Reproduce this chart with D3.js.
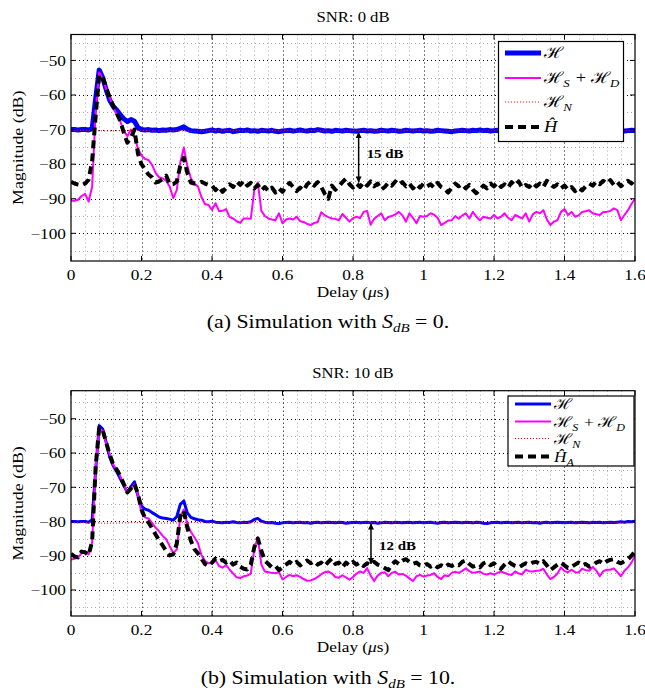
<!DOCTYPE html>
<html>
<head>
<meta charset="utf-8">
<script src="https://cdn.jsdelivr.net/npm/d3@7"></script>
<style>
  body { margin: 0; background: #fff; }
  text { font-family: "Liberation Serif", "Times New Roman", "DejaVu Serif", serif; fill: #000; }
</style>
</head>
<body>
<svg id="chart" width="645" height="692"></svg>
<script>
// sample grid of the delay axis (us)
const delay = d3.range(0, 161).map(i => i / 100);
const delayN = d3.range(0, 33).map(i => i * 0.05);

// ---- SNR 0 dB ----
const H0 = [
  -70.0,-70.0,-70.1,-70.0,-70.0,-70.1,-69.8,-61.0,-52.8,-55.0,
  -58.5,-61.5,-63.3,-64.4,-65.8,-66.9,-67.7,-67.1,-67.6,-69.4,
  -70.0,-70.1,-70.0,-70.2,-70.1,-70.3,-70.1,-70.2,-70.0,-70.1,
  -70.0,-69.6,-69.2,-69.9,-70.3,-70.4,-70.5,-70.6,-70.5,-70.3,
  -70.1,-70.4,-70.2,-70.5,-70.3,-70.2,-70.6,-70.4,-70.2,-70.3,
  -70.1,-70.4,-70.3,-70.5,-70.2,-70.3,-70.4,-70.2,-70.5,-70.6,
  -70.4,-70.3,-70.2,-70.4,-70.3,-70.1,-70.3,-70.4,-70.2,-70.3,
  -70.0,-70.2,-70.4,-70.3,-70.5,-70.2,-70.3,-70.4,-70.2,-70.3,
  -70.4,-70.5,-70.3,-70.2,-70.4,-70.3,-70.5,-70.4,-70.2,-70.3,
  -70.4,-70.2,-70.3,-70.5,-70.4,-70.2,-70.3,-70.4,-70.3,-70.2,
  -70.4,-70.3,-70.5,-70.4,-70.2,-70.3,-70.4,-70.5,-70.6,-70.4,
  -70.3,-70.2,-70.3,-70.4,-70.2,-70.3,-70.1,-70.3,-70.2,-70.4,
  -70.3,-70.2,-70.4,-70.3,-70.5,-70.3,-70.2,-70.4,-70.3,-70.2,
  -70.4,-70.3,-70.5,-70.4,-70.2,-70.3,-70.4,-70.3,-70.2,-70.4,
  -70.3,-70.5,-70.3,-70.2,-70.4,-70.3,-70.2,-70.4,-70.3,-70.1,
  -70.3,-70.4,-70.2,-70.3,-70.4,-70.2,-70.3,-70.4,-70.3,-70.2,-70.3
];
const HSD0 = [
  -90.6,-90.6,-90.3,-89.2,-88.6,-90.8,-86.5,-64.5,-53.5,-55.2,
  -58.3,-60.8,-63.6,-65.8,-67.6,-70.5,-71.9,-70.0,-72.0,-75.5,
  -77.5,-78.5,-78.8,-80.2,-82.5,-83.8,-84.1,-84.8,-86.5,-89.8,
  -87.5,-79.5,-75.2,-80.5,-84.0,-85.7,-86.4,-89.5,-91.5,-91.8,
  -93.2,-91.3,-93.6,-93.5,-93.0,-95.3,-95.7,-96.5,-97.0,-95.7,
  -95.7,-95.8,-87.5,-85.3,-93.5,-95.0,-95.7,-96.0,-96.2,-94.2,
  -97.1,-96.0,-95.7,-96.0,-95.2,-96.5,-96.7,-97.3,-97.6,-97.0,
  -96.7,-93.9,-94.8,-95.3,-95.7,-95.8,-96.2,-94.4,-95.5,-96.6,
  -95.6,-95.2,-95.6,-93.8,-93.5,-97.5,-95.8,-95.0,-94.2,-96.2,
  -95.3,-95.0,-94.5,-93.8,-94.8,-96.6,-94.2,-95.5,-97.1,-95.0,
  -95.2,-95.0,-94.2,-94.6,-95.5,-97.6,-97.0,-96.3,-96.2,-95.0,
  -95.8,-94.8,-94.2,-95.7,-93.8,-95.2,-96.2,-95.2,-95.5,-95.7,
  -94.7,-95.7,-95.2,-94.2,-95.5,-96.2,-94.7,-95.2,-95.7,-94.2,
  -96.6,-94.5,-93.8,-94.2,-93.3,-96.0,-97.6,-96.6,-96.2,-93.8,
  -93.0,-94.7,-93.8,-95.2,-94.8,-93.8,-93.6,-93.3,-94.2,-94.5,
  -94.7,-93.8,-93.8,-93.5,-92.8,-93.3,-96.2,-94.7,-93.3,-91.5,-90.0
];
const HN0 = [
  -70.3,-70.2,-70.4,-70.3,-70.2,-70.4,-70.3,-70.5,-70.3,-70.2,
  -70.4,-70.3,-70.2,-70.4,-70.3,-70.5,-70.3,-70.2,-70.4,-70.3,
  -70.2,-70.4,-70.3,-70.5,-70.3,-70.2,-70.4,-70.3,-70.2,-70.3,
  -70.4,-70.3,-70.2
];
const Hhat0 = [
  -85.1,-85.6,-85.9,-86.1,-85.6,-84.5,-79.0,-66.0,-54.2,-54.8,
  -58.0,-60.8,-63.2,-65.3,-67.5,-71.0,-73.8,-72.3,-70.0,-77.0,
  -80.0,-81.5,-83.0,-83.8,-85.3,-85.0,-84.3,-83.3,-85.8,-85.8,
  -85.0,-80.5,-78.2,-82.5,-85.3,-85.6,-85.4,-85.1,-85.6,-86.0,
  -86.2,-87.5,-86.5,-88.0,-86.8,-85.8,-86.6,-85.0,-86.0,-84.8,
  -86.2,-85.4,-87.0,-86.0,-87.6,-86.6,-87.8,-86.8,-88.2,-87.0,
  -88.0,-86.4,-85.4,-86.6,-87.8,-86.8,-87.6,-85.8,-85.0,-86.2,
  -85.2,-86.6,-88.6,-90.0,-86.2,-87.4,-86.4,-85.2,-84.2,-85.8,
  -86.8,-85.6,-86.6,-85.2,-86.2,-85.0,-86.4,-85.6,-87.4,-86.6,
  -85.4,-86.2,-85.0,-86.0,-85.2,-86.4,-85.6,-87.0,-85.8,-86.8,
  -85.6,-86.4,-85.8,-86.8,-85.4,-86.6,-87.2,-88.2,-86.8,-85.6,
  -86.4,-85.8,-87.0,-86.0,-87.4,-88.4,-87.2,-86.2,-87.0,-85.6,
  -86.4,-85.4,-86.6,-85.8,-86.8,-85.2,-86.2,-85.0,-86.8,-86.0,
  -86.6,-85.4,-86.4,-85.6,-86.6,-84.8,-85.8,-86.6,-85.8,-87.0,
  -86.2,-87.4,-86.6,-87.8,-86.8,-87.6,-86.4,-85.6,-86.2,-85.0,
  -85.8,-84.8,-85.6,-84.6,-86.0,-85.2,-86.4,-85.4,-84.8,-85.6,-84.4
];

// ---- SNR 10 dB ----
const H10 = [
  -80.0,-80.0,-80.1,-80.0,-80.0,-80.2,-79.5,-65.0,-52.0,-53.0,
  -57.0,-61.2,-63.8,-65.5,-67.5,-69.5,-71.5,-69.8,-68.4,-72.5,
  -75.5,-76.4,-76.7,-77.4,-78.0,-78.7,-79.0,-79.1,-79.3,-79.6,
  -78.6,-75.0,-74.0,-77.5,-78.8,-79.2,-79.5,-79.6,-80.0,-80.1,
  -79.9,-80.2,-80.3,-80.4,-80.2,-80.3,-80.1,-80.3,-80.4,-80.2,
  -80.3,-80.1,-79.4,-79.1,-79.9,-80.2,-80.4,-80.3,-80.5,-80.6,
  -80.4,-80.3,-80.2,-80.4,-80.3,-80.2,-80.4,-80.3,-80.5,-80.3,
  -80.2,-80.4,-80.3,-80.2,-80.3,-80.4,-80.2,-80.3,-80.5,-80.4,
  -80.3,-80.2,-80.4,-80.3,-80.2,-80.4,-80.3,-80.5,-80.4,-80.2,
  -80.3,-80.4,-80.2,-80.3,-80.4,-80.3,-80.2,-80.4,-80.3,-80.2,
  -80.4,-80.3,-80.2,-80.4,-80.5,-80.3,-80.2,-80.4,-80.3,-80.2,
  -80.3,-80.4,-80.2,-80.3,-80.4,-80.2,-80.3,-80.5,-80.6,-80.4,
  -80.3,-80.2,-80.4,-80.3,-80.2,-80.4,-80.3,-80.2,-80.4,-80.3,
  -80.2,-80.4,-80.3,-80.5,-80.3,-80.2,-80.4,-80.3,-80.2,-80.3,
  -80.4,-80.3,-80.2,-80.4,-80.3,-80.2,-80.3,-80.4,-80.2,-80.3,
  -80.2,-80.4,-80.3,-80.2,-80.3,-80.2,-80.1,-80.2,-80.0,-80.1,-79.9
];
const HSD10 = [
  -91.1,-90.9,-90.6,-89.2,-88.8,-89.6,-86.0,-64.0,-52.8,-53.6,
  -57.2,-60.6,-63.6,-65.0,-66.8,-69.2,-71.6,-70.5,-69.2,-72.5,
  -77.5,-78.8,-79.1,-80.5,-81.8,-82.9,-84.2,-85.2,-87.2,-89.2,
  -88.2,-78.5,-76.5,-80.8,-83.0,-84.6,-86.3,-89.8,-91.5,-92.2,
  -92.2,-91.3,-93.0,-93.5,-92.7,-94.1,-95.2,-96.3,-96.5,-96.0,
  -95.8,-95.2,-88.0,-84.6,-92.6,-94.6,-94.8,-95.0,-95.1,-94.8,
  -96.9,-96.2,-95.6,-96.0,-95.7,-96.2,-96.8,-97.3,-97.2,-96.8,
  -96.2,-95.4,-94.8,-94.6,-95.2,-96.2,-96.4,-95.7,-96.3,-97.0,
  -96.2,-95.2,-94.6,-95.0,-93.6,-95.8,-97.4,-95.8,-95.0,-94.8,
  -96.0,-95.0,-94.7,-95.5,-95.3,-95.8,-96.6,-97.4,-96.0,-95.6,
  -96.1,-95.8,-95.6,-95.1,-96.2,-96.8,-95.7,-96.0,-95.0,-94.7,
  -95.0,-94.4,-93.7,-94.5,-95.0,-94.8,-94.6,-95.3,-95.5,-95.1,
  -95.5,-95.0,-94.6,-95.0,-95.4,-95.6,-94.6,-95.2,-95.4,-94.1,
  -94.5,-94.6,-94.4,-94.3,-93.8,-95.5,-96.8,-96.2,-95.2,-93.4,
  -94.5,-94.8,-94.1,-94.8,-94.9,-93.8,-94.2,-94.4,-93.3,-94.3,
  -96.0,-94.5,-94.1,-94.1,-93.7,-94.8,-96.0,-94.4,-93.4,-92.0,-90.0
];
const HN10 = [
  -80.4,-80.3,-80.5,-80.4,-80.3,-80.5,-80.4,-80.3,-80.4,-80.5,
  -80.3,-80.4,-80.5,-80.3,-80.4,-80.3,-80.5,-80.4,-80.3,-80.4,
  -80.5,-80.3,-80.4,-80.3,-80.5,-80.4,-80.3,-80.4,-80.5,-80.3,
  -80.4,-80.3,-80.4
];
const HhatA10 = [
  -89.5,-90.2,-90.5,-88.8,-89.0,-89.8,-85.8,-63.8,-52.6,-53.4,
  -57.0,-60.5,-63.4,-64.9,-66.7,-69.1,-71.5,-70.4,-69.0,-72.0,
  -76.5,-79.0,-80.3,-82.0,-83.8,-85.5,-87.0,-88.6,-89.9,-89.6,
  -86.5,-78.5,-76.8,-81.8,-85.6,-88.0,-89.3,-90.8,-92.4,-93.0,
  -92.0,-90.8,-91.6,-91.2,-92.0,-91.4,-92.6,-92.0,-93.2,-93.8,
  -94.0,-92.6,-87.5,-85.0,-88.5,-91.5,-92.4,-93.4,-93.0,-94.2,
  -93.4,-92.6,-91.8,-92.6,-91.8,-92.8,-92.0,-91.4,-92.2,-91.6,
  -92.6,-92.0,-93.0,-91.8,-90.8,-92.4,-92.0,-93.4,-92.0,-92.8,
  -91.8,-92.6,-92.0,-93.0,-92.2,-92.8,-91.8,-92.6,-93.0,-93.6,
  -94.2,-92.6,-91.6,-92.4,-91.4,-91.0,-91.8,-92.4,-92.0,-92.8,
  -93.0,-92.4,-93.2,-92.6,-93.4,-92.8,-93.4,-92.6,-93.0,-92.4,
  -92.8,-91.8,-91.4,-92.4,-93.2,-92.8,-93.4,-92.2,-91.8,-92.8,
  -92.2,-93.4,-93.8,-92.6,-91.6,-92.4,-93.0,-93.4,-92.8,-92.2,
  -92.6,-92.0,-91.8,-92.4,-91.6,-92.8,-94.2,-93.4,-92.6,-92.0,
  -92.8,-93.6,-93.2,-92.6,-92.0,-92.8,-92.4,-93.2,-92.8,-92.0,
  -91.6,-92.4,-91.6,-91.2,-91.0,-91.8,-92.2,-91.6,-91.0,-90.0,-88.8
];

// gap annotations: [delay, upper dB, lower dB, label]
const gap0 = [0.816, -70.7, -85.3, "15 dB"];
const gap10 = [0.851, -80.6, -92.4, "12 dB"];

const xTicks = [0, 0.2, 0.4, 0.6, 0.8, 1, 1.2, 1.4, 1.6];
const xTickLabels = ["0", "0.2", "0.4", "0.6", "0.8", "1", "1.2", "1.4", "1.6"];
const yTicks = [-100, -90, -80, -70, -60, -50];
const yTickLabels = ["\u2212100", "\u221290", "\u221280", "\u221270", "\u221260", "\u221250"];
const xMinor = d3.range(1, 40).filter(i => i % 5).map(i => i * 0.04);
const yMinor = [-105, -95, -85, -75, -65, -55, -45];

const SX = 1.15;   // glyphs in the figure are a bit wider than tall
const svg = d3.select("#chart");
svg.append("rect").attr("width", 645).attr("height", 692).attr("fill", "#fff");

const defs = svg.append("defs");
defs.append("marker")
  .attr("id", "arrowhead")
  .attr("viewBox", "0 0 10 10")
  .attr("refX", 10).attr("refY", 5)
  .attr("markerWidth", 7).attr("markerHeight", 6)
  .attr("markerUnits", "userSpaceOnUse")
  .attr("orient", "auto-start-reverse")
  .append("path").attr("d", "M0,0 L10,5 L0,10 z").attr("fill", "#000");

function txt(parent, x, y, size, anchor) {
  return parent.append("text")
    .attr("transform", `translate(${x},${y}) scale(${SX},1)`)
    .attr("font-size", size)
    .attr("text-anchor", anchor || "middle");
}

function sub(t, s, size, italic) {
  t.append("tspan").attr("dy", 4).attr("font-size", size).attr("font-style", italic ? "italic" : null).text(s);
  t.append("tspan").attr("dy", -4).text("\u200a");
}

function drawPanel(p) {
  const x = d3.scaleLinear().domain([0, 1.6]).range([71, 635]);
  const y = d3.scaleLinear().domain(p.yDomain).range([p.bottom, p.top]);
  const g = svg.append("g");

  defs.append("clipPath").attr("id", "clip" + p.id)
    .append("rect").attr("x", 71).attr("y", p.top).attr("width", 564).attr("height", p.bottom - p.top);

  // grid
  const grid = g.append("g").attr("fill", "none").attr("stroke-width", 1);
  grid.selectAll(".mx").data(xMinor).join("line")
    .attr("x1", d => Math.round(x(d)) + 0.5).attr("x2", d => Math.round(x(d)) + 0.5)
    .attr("y1", p.top).attr("y2", p.bottom)
    .attr("stroke", "#aaa").attr("stroke-dasharray", "1,3");
  grid.selectAll(".my").data(yMinor).join("line")
    .attr("y1", d => Math.round(y(d)) + 0.5).attr("y2", d => Math.round(y(d)) + 0.5)
    .attr("x1", 71).attr("x2", 635)
    .attr("stroke", "#aaa").attr("stroke-dasharray", "1,3");
  grid.selectAll(".gx").data(xTicks.slice(1, -1)).join("line")
    .attr("x1", d => Math.round(x(d)) + 0.5).attr("x2", d => Math.round(x(d)) + 0.5)
    .attr("y1", p.top).attr("y2", p.bottom)
    .attr("stroke", "#000").attr("stroke-dasharray", "1,3");
  grid.selectAll(".gy").data(yTicks).join("line")
    .attr("y1", d => Math.round(y(d)) + 0.5).attr("y2", d => Math.round(y(d)) + 0.5)
    .attr("x1", 71).attr("x2", 635)
    .attr("stroke", "#000").attr("stroke-dasharray", "1,3");

  // series
  const line = d3.line().x(d => x(d[0])).y(d => y(d[1]));
  const plot = g.append("g").attr("clip-path", `url(#clip${p.id})`).attr("fill", "none")
    .attr("stroke-linejoin", "round");
  plot.append("path").attr("d", line(d3.zip(delay, p.H)))
    .attr("stroke", "#0000ff").attr("stroke-width", p.blueW);
  plot.append("path").attr("d", line(d3.zip(delay, p.HSD)))
    .attr("stroke", "#ff00ff").attr("stroke-width", 2);
  plot.append("path").attr("d", line(d3.zip(delayN, p.HN)))
    .attr("stroke", "#ff0000").attr("stroke-width", 1).attr("stroke-dasharray", "1,2");
  plot.append("path").attr("d", line(d3.zip(delay, p.Hhat)))
    .attr("stroke", "#000").attr("stroke-width", 4).attr("stroke-dasharray", "8,5");

  // frame and ticks
  g.append("rect").attr("x", 71).attr("y", p.top).attr("width", 564).attr("height", p.bottom - p.top)
    .attr("fill", "none").attr("stroke", "#000").attr("stroke-width", 1.2);
  const tk = g.append("g").attr("stroke", "#000").attr("stroke-width", 1);
  xTicks.forEach(d => {
    tk.append("line").attr("x1", x(d)).attr("x2", x(d)).attr("y1", p.bottom).attr("y2", p.bottom - 5);
    tk.append("line").attr("x1", x(d)).attr("x2", x(d)).attr("y1", p.top).attr("y2", p.top + 5);
  });
  yTicks.forEach(d => {
    tk.append("line").attr("x1", 71).attr("x2", 76).attr("y1", y(d)).attr("y2", y(d));
    tk.append("line").attr("x1", 635).attr("x2", 630).attr("y1", y(d)).attr("y2", y(d));
  });

  xTicks.forEach((d, i) => txt(g, x(d), p.bottom + 19, 15).text(xTickLabels[i]));
  yTicks.forEach((d, i) => txt(g, 66, y(d) + 5.3, 15, "end").text(yTickLabels[i]));

  // labels
  txt(g, 353, p.top - 13, 14.5).text(p.title);
  const xl = txt(g, 353, p.bottom + 35.5, 15);
  xl.append("tspan").text("Delay (");
  xl.append("tspan").attr("font-style", "italic").text("\u03bc");
  xl.append("tspan").text("s)");
  g.append("text")
    .attr("transform", `translate(23,${(p.top + p.bottom) / 2}) rotate(-90) scale(${SX},1)`)
    .attr("font-size", 15.5).attr("text-anchor", "middle").text("Magnitude (dB)");

  // gap arrow
  const a = p.gap;
  g.append("line").attr("x1", x(a[0])).attr("x2", x(a[0])).attr("y1", y(a[1])).attr("y2", y(a[2]))
    .attr("stroke", "#000").attr("stroke-width", 1.5)
    .attr("marker-start", "url(#arrowhead)").attr("marker-end", "url(#arrowhead)");
  txt(g, x(a[0]) + 8, p.gapTextY, 13, "start").attr("font-weight", "bold").text(a[3]);

  // legend
  const L = p.legend;
  const lg = g.append("g");
  lg.append("rect").attr("x", L.x).attr("y", L.y).attr("width", L.w).attr("height", L.h)
    .attr("fill", "#fff").attr("stroke", "#000").attr("stroke-width", 1.2);
  const styles = [
    { c: "#0000ff", w: p.blueW, da: null },
    { c: "#ff00ff", w: 2, da: null },
    { c: "#ff0000", w: 1, da: "1,2" },
    { c: "#000", w: 4, da: "8,5" }
  ];
  styles.forEach((s, i) => {
    const ry = L.rows[i];
    lg.append("line").attr("x1", L.lx).attr("x2", L.lx + 36).attr("y1", ry).attr("y2", ry)
      .attr("stroke", s.c).attr("stroke-width", s.w).attr("stroke-dasharray", s.da);
    const t = txt(lg, L.lx + 39, ry + 5, L.fs, "start");
    if (i === 0) t.append("tspan").text("\u210b");
    if (i === 1) {
      t.append("tspan").text("\u210b");
      sub(t, "S", L.fs * 0.7, true);
      t.append("tspan").text(" + \u210b");
      sub(t, "D", L.fs * 0.7, true);
    }
    if (i === 2) { t.append("tspan").text("\u210b"); sub(t, "N", L.fs * 0.7, true); }
    if (i === 3) {
      t.append("tspan").attr("font-style", "italic").text("\u0124");
      if (p.hatSub) sub(t, p.hatSub, L.fs * 0.7, true);
    }
  });

  // caption
  const c = txt(svg, 328, p.captionY, 19);
  c.append("tspan").text(`(${p.letter}) Simulation with `);
  c.append("tspan").attr("font-style", "italic").text("S");
  c.append("tspan").attr("dy", 4).attr("font-size", 13).attr("font-style", "italic").text("dB");
  c.append("tspan").attr("dy", -4).text(` = ${p.snr}.`);
}

drawPanel({
  id: 0, title: "SNR: 0 dB", top: 34.5, bottom: 261, yDomain: [-108, -42.5],
  H: H0, HSD: HSD0, HN: HN0, Hhat: Hhat0, blueW: 5, hatSub: null,
  gap: gap0, gapTextY: 158,
  legend: { x: 498.5, y: 41.5, w: 125, h: 100, lx: 505, rows: [53, 78, 102, 127], fs: 16 },
  letter: "a", snr: "0", captionY: 328
});
drawPanel({
  id: 1, title: "SNR: 10 dB", top: 390.7, bottom: 616, yDomain: [-107.6, -41.8],
  H: H10, HSD: HSD10, HN: HN10, Hhat: HhatA10, blueW: 3, hatSub: "A",
  gap: gap10, gapTextY: 550,
  legend: { x: 508, y: 396, w: 126, h: 70, lx: 515, rows: [404, 421.5, 438.5, 456.5], fs: 15 },
  letter: "b", snr: "10", captionY: 684
});
</script>
</body>
</html>
